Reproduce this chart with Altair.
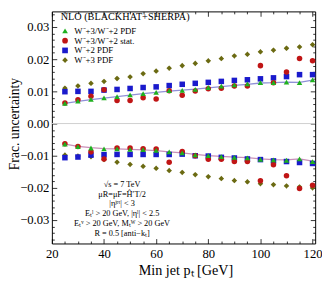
import altair as alt
import pandas as pd

# ---------------- data ----------------
pt = [25, 30, 35, 40, 45, 50, 55, 60, 65, 70, 75, 80, 85, 90, 95, 100, 105, 110, 115, 120]

series_names = ["W⁻+3/W⁻+2 PDF", "W⁻+3/W⁻+2 stat.", "W⁻+2 PDF", "W⁻+3 PDF"]

ratio_pdf_up = [0.0063, 0.0070, 0.0075, 0.0080, 0.0084, 0.0089, 0.0093, 0.0097, 0.0102, 0.0103,
                0.0106, 0.0112, 0.0116, 0.0120, 0.0123, 0.0127, 0.0127, 0.0129, 0.0127, 0.0136]
ratio_pdf_dn = [-0.0064, -0.0072, -0.0076, -0.0079, -0.0079, -0.0080, -0.0081, -0.0083, -0.0088, -0.0091,
                -0.0097, -0.0100, -0.0103, -0.0105, -0.0107, -0.0111, -0.0113, -0.0114, -0.0110, -0.0118]

ratio_stat_up = [0.0064, 0.0074, 0.0085, 0.0105, 0.0072, 0.0072, 0.0080, 0.0076, 0.0102, 0.0088,
                 0.0101, 0.0108, 0.0110, 0.0117, 0.0117, 0.0180, 0.0127, 0.0160, 0.0202, 0.0195]
ratio_stat_dn = [-0.0063, -0.0071, -0.0088, -0.0110, -0.0076, -0.0076, -0.0078, -0.0079, -0.0120, -0.0087,
                 -0.0100, -0.0111, -0.0111, -0.0118, -0.0118, -0.0178, -0.0128, -0.0162, -0.0202, -0.0192]

w2_pdf_up = [0.0099, 0.0100, 0.0100, 0.0104, 0.0106, 0.0109, 0.0112, 0.0114, 0.0118, 0.0122,
             0.0125, 0.0128, 0.0131, 0.0134, 0.0136, 0.0139, 0.0142, 0.0146, 0.0152, 0.0152]
w2_pdf_dn = [-0.0106, -0.0104, -0.0098, -0.0097, -0.0096, -0.0096, -0.0096, -0.0096, -0.0096, -0.0095,
             -0.0100, -0.0101, -0.0105, -0.0107, -0.0110, -0.0112, -0.0116, -0.0118, -0.0121, -0.0124]

w3_pdf_up = [0.0110, 0.0117, 0.0125, 0.0131, 0.0140, 0.0145, 0.0155, 0.0163, 0.0172, 0.0180,
             0.0187, 0.0195, 0.0202, 0.0210, 0.0215, 0.0223, 0.0228, 0.0234, 0.0238, 0.0245]
w3_pdf_dn = [-0.0098, -0.0101, -0.0103, -0.0112, -0.0120, -0.0127, -0.0133, -0.0139, -0.0146, -0.0152,
             -0.0159, -0.0165, -0.0171, -0.0177, -0.0181, -0.0187, -0.0190, -0.0194, -0.0197, -0.0200]

fit_up = [0.0063, 0.0069, 0.0074, 0.0079, 0.0084, 0.0088, 0.0093, 0.0097, 0.0101, 0.0104,
          0.0107, 0.0111, 0.0115, 0.0119, 0.0122, 0.0126, 0.0127, 0.0129, 0.0128, 0.0135]
fit_dn = [-0.0064, -0.0071, -0.0075, -0.0078, -0.0079, -0.0080, -0.0082, -0.0084, -0.0088, -0.0091,
          -0.0096, -0.0100, -0.0102, -0.0104, -0.0106, -0.0110, -0.0112, -0.0113, -0.0110, -0.0117]

info_lines = ["√s = 7 TeV", "μR=μF=Ĥ′T/2", "|ηʲᵉᵗ| < 3",
              "Eₜˡ > 20 GeV, |ηˡ| < 2.5", "Eₜᵛ > 20 GeV, Mₜᵂ > 20 GeV", "R = 0.5 [anti−kₜ]"]

x_major = [20, 40, 60, 80, 100, 120]
x_minor = list(range(20, 125, 5))
y_major = [-0.03, -0.02, -0.01, 0.0, 0.01, 0.02, 0.03]
y_minor = [k / 1000 for k in range(-36, 36, 2)]

# ---------------- tables ----------------
rows = []
for name, up, dn in zip(series_names,
                        [ratio_pdf_up, ratio_stat_up, w2_pdf_up, w3_pdf_up],
                        [ratio_pdf_dn, ratio_stat_dn, w2_pdf_dn, w3_pdf_dn]):
    for p, u, d in zip(pt, up, dn):
        rows.append({"pt": p, "val": u, "series": name, "band": "up"})
        rows.append({"pt": p, "val": d, "series": name, "band": "dn"})
df = pd.DataFrame(rows)
order_map = {series_names[3]: 0, series_names[2]: 1, series_names[1]: 2, series_names[0]: 3}
df["ord"] = df["series"].map(order_map)
df = df.sort_values("ord")

df_fit_up = pd.DataFrame({"pt": pt, "val": fit_up})
df_fit_dn = pd.DataFrame({"pt": pt, "val": fit_dn})
df_zero = pd.DataFrame({"z": [0.0]})

W, H = 270, 238
SERIF = "Liberation Serif"

xs = alt.Scale(domain=[20, 121], nice=False, zero=False)
ys = alt.Scale(domain=[-0.03727, 0.03485], nice=False, zero=False)

star = "M0,-1L0.5,-0.5L1,0L0.5,0.5L0,1L-0.5,0.5L-1,0L-0.5,-0.5Z"
colors = ["#1fb01f", "#c01515", "#1a1acc", "#6b6a12"]
shapes = ["triangle-up", "circle", "square", star]

legend = alt.Legend(
    title="NLO (BLACKHAT+SHERPA)", orient="none", legendX=9, legendY=1,
    titleFont=SERIF, titleFontSize=10.5, titleFontWeight="normal", titleColor="black",
    titlePadding=4, titleLimit=400, labelLimit=400, labelFont=SERIF, labelFontSize=9,
    labelColor="black", symbolSize=34, rowPadding=0, padding=0, labelOffset=5,
    symbolStrokeWidth=0,
)

xcond = {"condition": {"test": "datum.value % 20 === 0", "value": 5}, "value": 2.5}
ycond = {"condition": {"test": "round(datum.value * 1000) % 10 === 0", "value": 5}, "value": 2.5}

points = alt.Chart(df).mark_point(filled=True, opacity=1, size=32).encode(
    x=alt.X("pt:Q", scale=xs, axis=alt.Axis(
        values=x_major, tickSize=0, domain=False, grid=False, labelFont=SERIF,
        labelFontSize=13, labelColor="black", labelPadding=4, labelFlush=False,
        title="Min jet pₜ [GeV]", titleFont=SERIF, titleFontSize=14.5,
        titleFontWeight="normal", titleColor="black", titleX=137, titleY=28,
        titleBaseline="middle", titleAlign="center")),
    y=alt.Y("val:Q", scale=ys, axis=alt.Axis(
        values=y_major, format=".2f", tickSize=0, domain=False, grid=False,
        labelFont=SERIF, labelFontSize=13, labelColor="black", labelPadding=3,
        title="Frac. uncertainty", titleFont=SERIF, titleFontSize=14,
        titleFontWeight="normal", titleColor="black", titleX=-38, titleY=115,
        titleBaseline="middle", titleAlign="center")),
    color=alt.Color("series:N", scale=alt.Scale(domain=series_names, range=colors), legend=legend),
    shape=alt.Shape("series:N", scale=alt.Scale(domain=series_names, range=shapes), legend=legend),
    order=alt.Order("ord:Q"),
)

line_up = alt.Chart(df_fit_up).mark_line(color="#9090d8", strokeWidth=1.3).encode(
    x=alt.X("pt:Q", scale=xs, axis=None), y=alt.Y("val:Q", scale=ys, axis=None))
line_dn = alt.Chart(df_fit_dn).mark_line(color="#c890b8", strokeWidth=1.3).encode(
    x=alt.X("pt:Q", scale=xs, axis=None), y=alt.Y("val:Q", scale=ys, axis=None))

zero = alt.Chart(df_zero).mark_rule(color="#cfcfcf", strokeWidth=1).encode(
    y=alt.Y("z:Q", scale=ys, axis=None))

def tick_layer(xo, yo):
    return alt.Chart(df_fit_up).mark_point(opacity=0).encode(
        x=alt.X("pt:Q", scale=xs, axis=alt.Axis(
            orient=xo, offset=-H, values=x_minor, labels=False, domain=False, grid=False,
            title=None, tickSize=xcond, tickColor="black", tickWidth=0.8)),
        y=alt.Y("val:Q", scale=ys, axis=alt.Axis(
            orient=yo, offset=-W, values=y_minor, labels=False, domain=False, grid=False,
            title=None, tickSize=ycond, tickColor="black", tickWidth=0.8)),
    )

info = alt.Chart(df_zero).mark_text(
    font=SERIF, fontSize=8.5, color="black", align="center", baseline="middle", lineHeight=10
).encode(x=alt.value(72), y=alt.value(177), text=alt.value(info_lines))

chart = alt.layer(
    zero, line_up, line_dn, points, tick_layer("top", "right"), tick_layer("bottom", "left"), info
).resolve_axis(x="independent", y="independent").properties(
    width=W, height=H, autosize=alt.AutoSizeParams(type="none"),
    padding={"left": 45, "top": 0, "right": 7, "bottom": 36},
).configure_view(stroke="black", strokeWidth=1)

chart.save("out.html", embed_options={"renderer": "svg", "actions": False})
